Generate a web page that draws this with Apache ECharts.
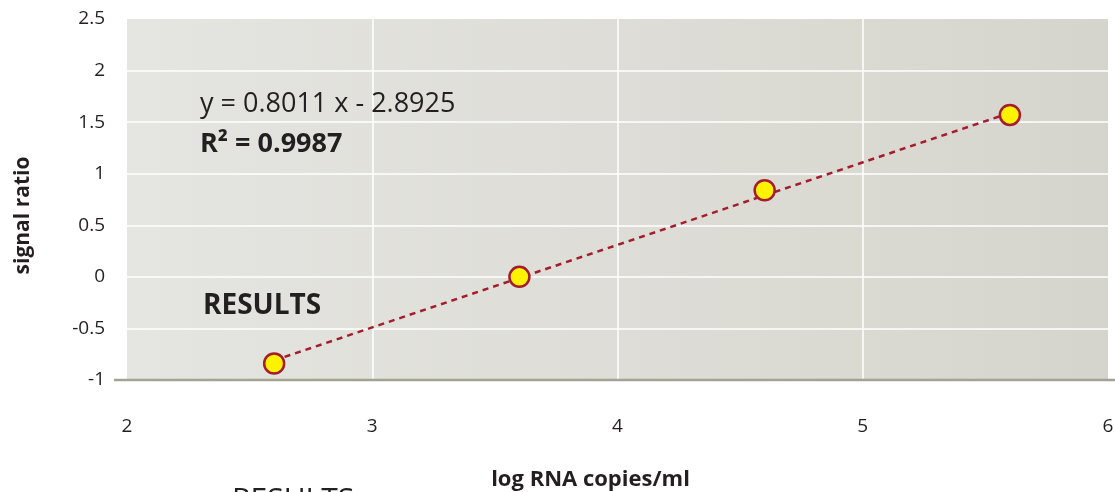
<!DOCTYPE html>
<html>
<head>
<meta charset="utf-8">
<script src="https://cdn.jsdelivr.net/npm/echarts@6/dist/echarts.min.js"></script>
<style>
html,body{margin:0;padding:0;background:#fff;}
#chart{width:1115px;height:492px;}
</style>
</head>
<body>
<div id="chart"></div>
<script>
// Data
const xValues = [2.6, 3.6, 4.6, 5.6];
const yValues = [-0.84, 0.0, 0.84, 1.57];
const trendX = [2.6, 5.6];
const trendY = [-0.81, 1.59];
const xTicks = [2, 3, 4, 5, 6];
const yTicks = [-1, -0.5, 0, 0.5, 1, 1.5, 2, 2.5];
const equationText = 'y = 0.8011 x - 2.8925';
const r2Text = 'R² = 0.9987';
const resultsText = 'RESULTS';
const xAxisName = 'log RNA copies/ml';
const yAxisName = 'signal ratio';

const FONT = '"Open Sans", Lato, sans-serif';
const TXT = '#231f20';

const chart = echarts.init(document.getElementById('chart'), null, {renderer: 'canvas'});
const points = xValues.map((x, i) => [x, yValues[i]]);
const trend = trendX.map((x, i) => [x, trendY[i]]);

chart.setOption({
  animation: false,
  backgroundColor: '#ffffff',
  grid: {
    left: 127, right: 7, top: 19, bottom: 112,
    containLabel: false,
    outerBoundsMode: 'none',
    show: true,
    borderWidth: 0,
    backgroundColor: {
      type: 'linear', x: 0, y: 0, x2: 1, y2: 0,
      colorStops: [
        {offset: 0, color: '#e5e5e1'},
        {offset: 1, color: '#d6d5cd'}
      ]
    }
  },
  xAxis: {
    type: 'value',
    min: xTicks[0], max: xTicks[xTicks.length - 1], interval: 1,
    name: xAxisName,
    nameLocation: 'middle',
    nameGap: 89,
    nameTextStyle: {fontFamily: FONT, fontWeight: 'bold', fontSize: 22, color: TXT, padding: [0, 54, 0, 0]},
    axisLine: {show: false},
    axisTick: {show: false},
    axisLabel: {fontFamily: FONT, fontSize: 19, color: TXT, margin: 37},
    splitLine: {show: true, showMinLine: false, showMaxLine: false, lineStyle: {color: '#ffffff', width: 1.5}}
  },
  yAxis: {
    type: 'value',
    min: yTicks[0], max: yTicks[yTicks.length - 1], interval: 0.5,
    name: yAxisName,
    nameLocation: 'middle',
    nameGap: 93,
    nameTextStyle: {fontFamily: FONT, fontWeight: 'bold', fontSize: 21, color: TXT, padding: [0, 32, 0, 0]},
    axisLine: {show: false},
    axisTick: {show: false},
    axisLabel: {fontFamily: FONT, fontSize: 19, color: TXT, margin: 22},
    splitLine: {show: true, showMinLine: false, showMaxLine: false, lineStyle: {color: '#ffffff', width: 1.5}}
  },
  graphic: [
    {type: 'line', z: 50, shape: {x1: 114, y1: 380, x2: 1115, y2: 380}, style: {stroke: '#a3a294', lineWidth: 2.5}},
    {type: 'text', z: 60, left: 200, top: 91, style: {text: equationText, font: '27px ' + FONT, fill: TXT}},
    {type: 'text', z: 60, left: 200, top: 131, style: {text: r2Text, font: 'bold 27px ' + FONT, fill: TXT}},
    {type: 'text', z: 60, left: 203, top: 292, style: {text: resultsText, font: 'bold 28px ' + FONT, fill: TXT}},
    {type: 'text', z: 60, left: 232, top: 485, style: {text: resultsText, font: '30px ' + FONT, fill: TXT}}
  ],
  series: [
    {
      type: 'line',
      data: trend,
      symbol: 'none',
      lineStyle: {color: '#a51d2d', width: 2.5, type: [6, 5]},
      z: 3,
      silent: true
    },
    {
      type: 'scatter',
      data: points,
      symbol: 'circle',
      symbolSize: 20,
      itemStyle: {color: '#fff200', borderColor: '#a51d2d', borderWidth: 2.5, opacity: 1},
      z: 5
    }
  ]
});
</script>
</body>
</html>
